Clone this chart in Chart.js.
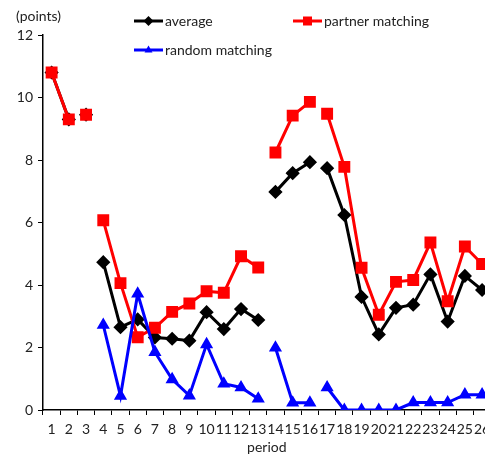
<!DOCTYPE html>
<html>
<head>
<meta charset="utf-8">
<script src="https://cdn.jsdelivr.net/npm/chart.js@4/dist/chart.umd.min.js"></script>
<style>
  html, body { margin: 0; padding: 0; background: #fff; overflow: hidden; }
  #wrap { width: 485px; height: 456px; overflow: hidden; }
  #box { width: 500px; height: 456px; }
</style>
</head>
<body>
<div id="wrap"><div id="box"><canvas id="chart"></canvas></div></div>
<script>
const periods = ["1","2","3","4","5","6","7","8","9","10","11","12","13",
  "14","15","16","17","18","19","20","21","22","23","24","25","26"];

const average = [10.8, 9.3, 9.45, 4.73, 2.65, 2.9, 2.32, 2.28, 2.22, 3.13, 2.59, 3.23, 2.88,
  6.98, 7.58, 7.93, 7.74, 6.24, 3.62, 2.42, 3.27, 3.37, 4.34, 2.83, 4.29, 3.84];

const partnerMatching = [10.8, 9.3, 9.45, 6.07, 4.06, 2.33, 2.63, 3.14, 3.41, 3.8, 3.75, 4.92, 4.56,
  8.24, 9.42, 9.86, 9.48, 7.78, 4.55, 3.05, 4.1, 4.16, 5.36, 3.48, 5.23, 4.67];

const randomMatching = [null, null, null, 2.72, 0.45, 3.72, 1.85, 0.98, 0.46, 2.1, 0.84, 0.72, 0.36,
  1.99, 0.23, 0.23, 0.72, 0, 0, 0, 0, 0.24, 0.24, 0.24, 0.49, 0.49];

const yTicks = [0, 2, 4, 6, 8, 10, 12];

// periods that open a new session: no line is drawn into them
const sessionStarts = [3, 4, 14, 17];

const FONT = "Lato, 'Open Sans', sans-serif";

function segColor(color) {
  return ctx => sessionStarts.includes(ctx.p1DataIndex + 1) ? "transparent" : color;
}

function drawMarker(ctx, style, x, y, color) {
  ctx.save();
  ctx.fillStyle = color;
  ctx.beginPath();
  if (style === "rectRot") {
    const r = 5;
    ctx.moveTo(x, y - r); ctx.lineTo(x + r, y); ctx.lineTo(x, y + r); ctx.lineTo(x - r, y);
  } else if (style === "rect") {
    ctx.rect(x - 4.5, y - 4.5, 9, 9);
  } else {
    ctx.moveTo(x, y - 4.5); ctx.lineTo(x + 4, y + 2.5); ctx.lineTo(x - 4, y + 2.5);
  }
  ctx.closePath();
  ctx.fill();
  ctx.restore();
}

// legend in two columns plus the unit caption above the y axis
const legendPlugin = {
  id: "sideLegend",
  afterDraw(chart) {
    const ctx = chart.ctx;
    const spots = [[134, 21], [134, 50], [293, 21]];
    const ds = chart.data.datasets;
    ctx.save();
    ctx.font = "14px " + FONT;
    ctx.textBaseline = "middle";
    ds.forEach((d, i) => {
      const [x, y] = spots[i];
      ctx.strokeStyle = d.borderColor;
      ctx.lineWidth = 3;
      ctx.beginPath();
      ctx.moveTo(x, y); ctx.lineTo(x + 29, y);
      ctx.stroke();
      drawMarker(ctx, d.pointStyle, x + 14.5, y, d.borderColor);
      ctx.fillStyle = "#222";
      ctx.textAlign = "left";
      ctx.fillText(d.label, x + 31, y);
    });
    ctx.fillText("(points)", 16, 16);
    ctx.restore();
  }
};

new Chart(document.getElementById("chart"), {
  type: "line",
  data: {
    labels: periods,
    datasets: [
      {
        label: "average", data: average, borderColor: "#000", backgroundColor: "#000",
        pointStyle: "rectRot", pointRadius: 5, pointHoverRadius: 5, borderWidth: 3, order: 2,
        segment: { borderColor: segColor("#000") }
      },
      {
        label: "random matching", data: randomMatching, borderColor: "#0000ff", backgroundColor: "#0000ff",
        pointStyle: "triangle", pointRadius: 4.6, pointHoverRadius: 4.6, borderWidth: 3, order: 0,
        segment: { borderColor: segColor("#0000ff") }
      },
      {
        label: "partner matching", data: partnerMatching, borderColor: "#ff0000", backgroundColor: "#ff0000",
        pointStyle: "rect", pointRadius: 6.3, pointHoverRadius: 6.3, borderWidth: 3, order: 1,
        segment: { borderColor: segColor("#ff0000") }
      }
    ]
  },
  options: {
    responsive: true,
    maintainAspectRatio: false,
    animation: false,
    spanGaps: false,
    layout: { padding: { top: 35, left: 0, right: 0, bottom: 0 } },
    plugins: { legend: { display: false }, tooltip: { enabled: false } },
    scales: {
      x: {
        offset: true,
        grid: { offset: true, drawOnChartArea: false, drawTicks: true, tickLength: 5, color: "#000" },
        border: { color: "#000", width: 1.5 },
        ticks: { color: "#222", font: { family: FONT, size: 14 }, padding: 6, maxRotation: 0, autoSkip: false },
        title: { display: true, text: "period", color: "#222", font: { family: FONT, size: 14 }, padding: { top: 0, bottom: 0 } },
        afterFit: s => { s.height = 46; }
      },
      y: {
        min: 0, max: 12,
        afterBuildTicks: s => { s.ticks = yTicks.map(v => ({ value: v })); },
        grid: { drawOnChartArea: false, drawTicks: true, tickLength: 5, color: "#000" },
        border: { color: "#000", width: 1.5 },
        ticks: { color: "#222", font: { family: FONT, size: 14 }, padding: 5 },
        afterFit: s => { s.width = 43; }
      }
    }
  },
  plugins: [legendPlugin]
});
</script>
</body>
</html>
